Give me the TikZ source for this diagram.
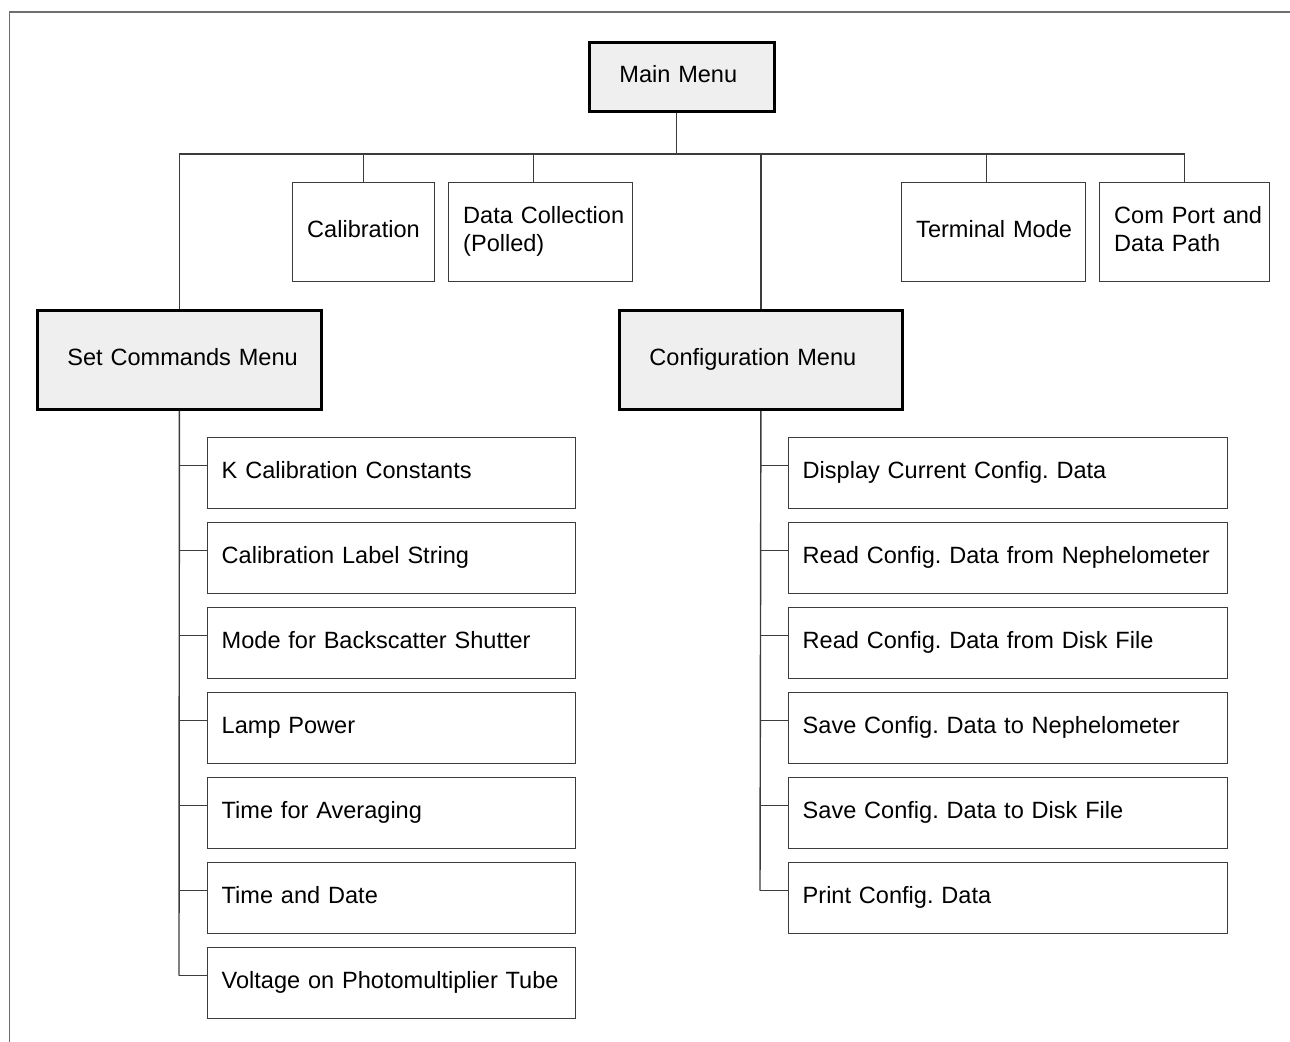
\documentclass[tikz,border=0pt]{standalone}
\usepackage{fontspec}
\setmainfont{Liberation Sans}
\usepackage{xcolor}
\usetikzlibrary{positioning}
\definecolor{menufill}{RGB}{239, 239, 239}
\definecolor{framegray}{RGB}{110, 110, 110}
\definecolor{linegray}{RGB}{60, 60, 60}
\frenchspacing

\begin{document}
\begin{tikzpicture}[every node/.style={font=\fontsize{13.4}{16}\selectfont}]

\useasboundingbox (0,0) rectangle (25.8,-20.84);

% Frame (top and left edges only)
\draw[framegray, line width=0.9pt] (25.8,-0.24) -- (0.19,-0.24) -- (0.19,-20.84);

\tikzset{
  boxtext/.style={anchor=north west, text width=#1, align=left, inner xsep=0pt,
    execute at end node=\strut},
  menubox/.style={boxtext=#1, draw=black, fill=menufill, line width=1.6pt,
    minimum height=1.98cm, execute at begin node={\leftskip=0.6cm\relax\strut}},
  smallbox/.style={boxtext=#1, draw=linegray, line width=0.8pt,
    minimum height=1.98cm, execute at begin node={\leftskip=0.29cm\relax\strut}},
  itembox/.style={boxtext=#1, draw=linegray, line width=0.8pt,
    minimum height=1.42cm, execute at begin node={\leftskip=0.28cm\relax\strut}},
  wire/.style={linegray, line width=0.8pt}
}

% Main menu
\node[menubox=3.7cm, minimum height=1.38cm] at (11.76,-0.82) (main) {Main Menu};

% First level
\node[smallbox=2.84cm] at (5.84,-3.64) (calib) {Calibration};
\node[smallbox=3.68cm] at (8.96,-3.64) (datacoll) {Data Collection\\(Polled)};
\node[smallbox=3.68cm] at (18.02,-3.64) (terminal) {Terminal Mode};
\node[smallbox=3.4cm] at (21.98,-3.64) (comport) {Com Port and\\Data Path};

\node[menubox=5.68cm] at (0.72,-6.18) (setcmd) {Set Commands Menu};
\node[menubox=5.66cm] at (12.36,-6.18) (config) {Configuration Menu};

% Set commands items
\foreach \name/\txt [count=\i from 0] in {
  k/K Calibration Constants,
  label/Calibration Label String,
  shutter/Mode for Backscatter Shutter,
  lamp/Lamp Power,
  avg/Time for Averaging,
  date/Time and Date,
  pmt/Voltage on Photomultiplier Tube} {
  \node[itembox=7.36cm] at (4.14,-8.74-1.7*\i) (set-\name) {\txt};
  \draw[wire] ([yshift=0.15cm]set-\name.west) -- ++(-0.56,0) coordinate (sj-\name);
}

% Configuration items
\foreach \name/\txt [count=\i from 0] in {
  show/Display Current Config. Data,
  readneph/Read Config. Data from Nephelometer,
  readdisk/Read Config. Data from Disk File,
  saveneph/Save Config. Data to Nephelometer,
  savedisk/Save Config. Data to Disk File,
  print/Print Config. Data} {
  \node[itembox=8.78cm] at (15.76,-8.74-1.7*\i) (cfg-\name) {\txt};
  \draw[wire] ([yshift=0.15cm]cfg-\name.west) -- ++(-0.56,0) coordinate (cj-\name);
}

% Trunk and bus
\coordinate (trunk) at ([xshift=-0.11cm]main.south);
\coordinate (bus) at ([yshift=-0.82cm]trunk);
\draw[wire] (trunk) -- (bus);
\coordinate (busl) at (setcmd.north |- bus);
\coordinate (busr) at (comport.north |- bus);
\draw[wire] (busl) -- (busr);

% Drops from the bus
\draw[wire] (busl) -- (setcmd.north);
\draw[wire] (calib.north |- bus) -- (calib.north);
\draw[wire] ([xshift=-0.14cm]datacoll.north |- bus) -- ([xshift=-0.14cm]datacoll.north);
\draw[wire] (config.north |- bus) -- (config.north);
\draw[wire] ([xshift=-0.14cm]terminal.north |- bus) -- ([xshift=-0.14cm]terminal.north);
\draw[wire] (busr) -- (comport.north);

% Spines of the two lists
\draw[wire] (setcmd.south) -- (sj-pmt);
\draw[wire] (config.south) -- (cj-print);

\end{tikzpicture}
\end{document}
